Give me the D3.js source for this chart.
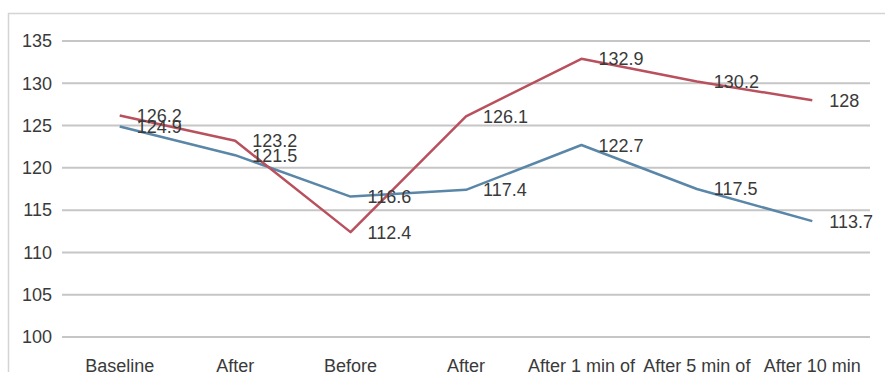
<!DOCTYPE html>
<html>
<head>
<meta charset="utf-8">
<script src="https://cdn.jsdelivr.net/npm/d3@7"></script>
<style>
  html, body { margin: 0; padding: 0; background: #fff; }
  svg { display: block; }
  text { font-family: "Liberation Sans", Arial, sans-serif; fill: #3a3a3a; }
</style>
</head>
<body>
<svg id="chart" width="885" height="372"></svg>
<script>
// Categories (first line of each axis label)
const categories = ["Baseline", "After", "Before", "After", "After 1 min of", "After 5 min of", "After 10 min"];
// Two measured series
const seriesRed  = [126.2, 123.2, 112.4, 126.1, 132.9, 130.2, 128];
const seriesBlue = [124.9, 121.5, 116.6, 117.4, 122.7, 117.5, 113.7];
// Y-axis ticks
const yTicks = [100, 105, 110, 115, 120, 125, 130, 135];

(function () {
  const svg = d3.select("#chart");
  const m = { left: 62, right: 870, top: 41, bottom: 337 };

  // Chart frame
  svg.append("rect")
    .attr("x", 8.5).attr("y", 13.5)
    .attr("width", 900).attr("height", 400)
    .attr("fill", "#fff").attr("stroke", "#d4d4d4").attr("stroke-width", 1.5);

  const x = d3.scaleBand().domain(d3.range(categories.length)).range([m.left, m.right]);
  const y = d3.scaleLinear().domain([100, 135]).range([m.bottom, m.top]);
  const cx = i => x(i) + x.bandwidth() / 2;

  // Horizontal gridlines
  svg.append("g").selectAll("line").data(yTicks).join("line")
    .attr("x1", m.left).attr("x2", m.right)
    .attr("y1", d => y(d)).attr("y2", d => y(d))
    .attr("stroke", "#c6c6c6").attr("stroke-width", 2);

  // Y tick labels
  const yAxis = d3.axisLeft(y).tickValues(yTicks).tickSize(0).tickPadding(10);
  const gy = svg.append("g").attr("transform", `translate(${m.left},0)`).call(yAxis);
  gy.select(".domain").remove();
  gy.selectAll("text").attr("font-size", 18)
    .style("font-family", "'Liberation Sans', Arial, sans-serif").attr("fill", "#3a3a3a");

  // X category labels
  const xAxis = d3.axisBottom(x).tickFormat(i => categories[i]).tickSize(0).tickPadding(0);
  const gx = svg.append("g").attr("transform", `translate(0,${m.bottom})`).call(xAxis);
  gx.select(".domain").remove();
  gx.selectAll("text").attr("font-size", 18).attr("dy", 0).attr("y", 35)
    .style("font-family", "'Liberation Sans', Arial, sans-serif").attr("fill", "#3a3a3a");

  // Lines
  const line = d3.line().x((d, i) => cx(i)).y(d => y(d));
  const series = [
    { values: seriesBlue, color: "#5a86a8" },
    { values: seriesRed,  color: "#b9505e" }
  ];
  series.forEach(s => {
    svg.append("path").datum(s.values)
      .attr("d", line).attr("fill", "none")
      .attr("stroke", s.color).attr("stroke-width", 2.5)
      .attr("stroke-linejoin", "round");
  });

  // Value labels to the right of each point
  series.forEach(s => {
    svg.append("g").selectAll("text").data(s.values).join("text")
      .attr("x", (d, i) => cx(i) + 17)
      .attr("y", d => y(d))
      .attr("dy", "0.36em")
      .attr("font-size", 18)
      .text(d => d);
  });
})();
</script>
</body>
</html>
